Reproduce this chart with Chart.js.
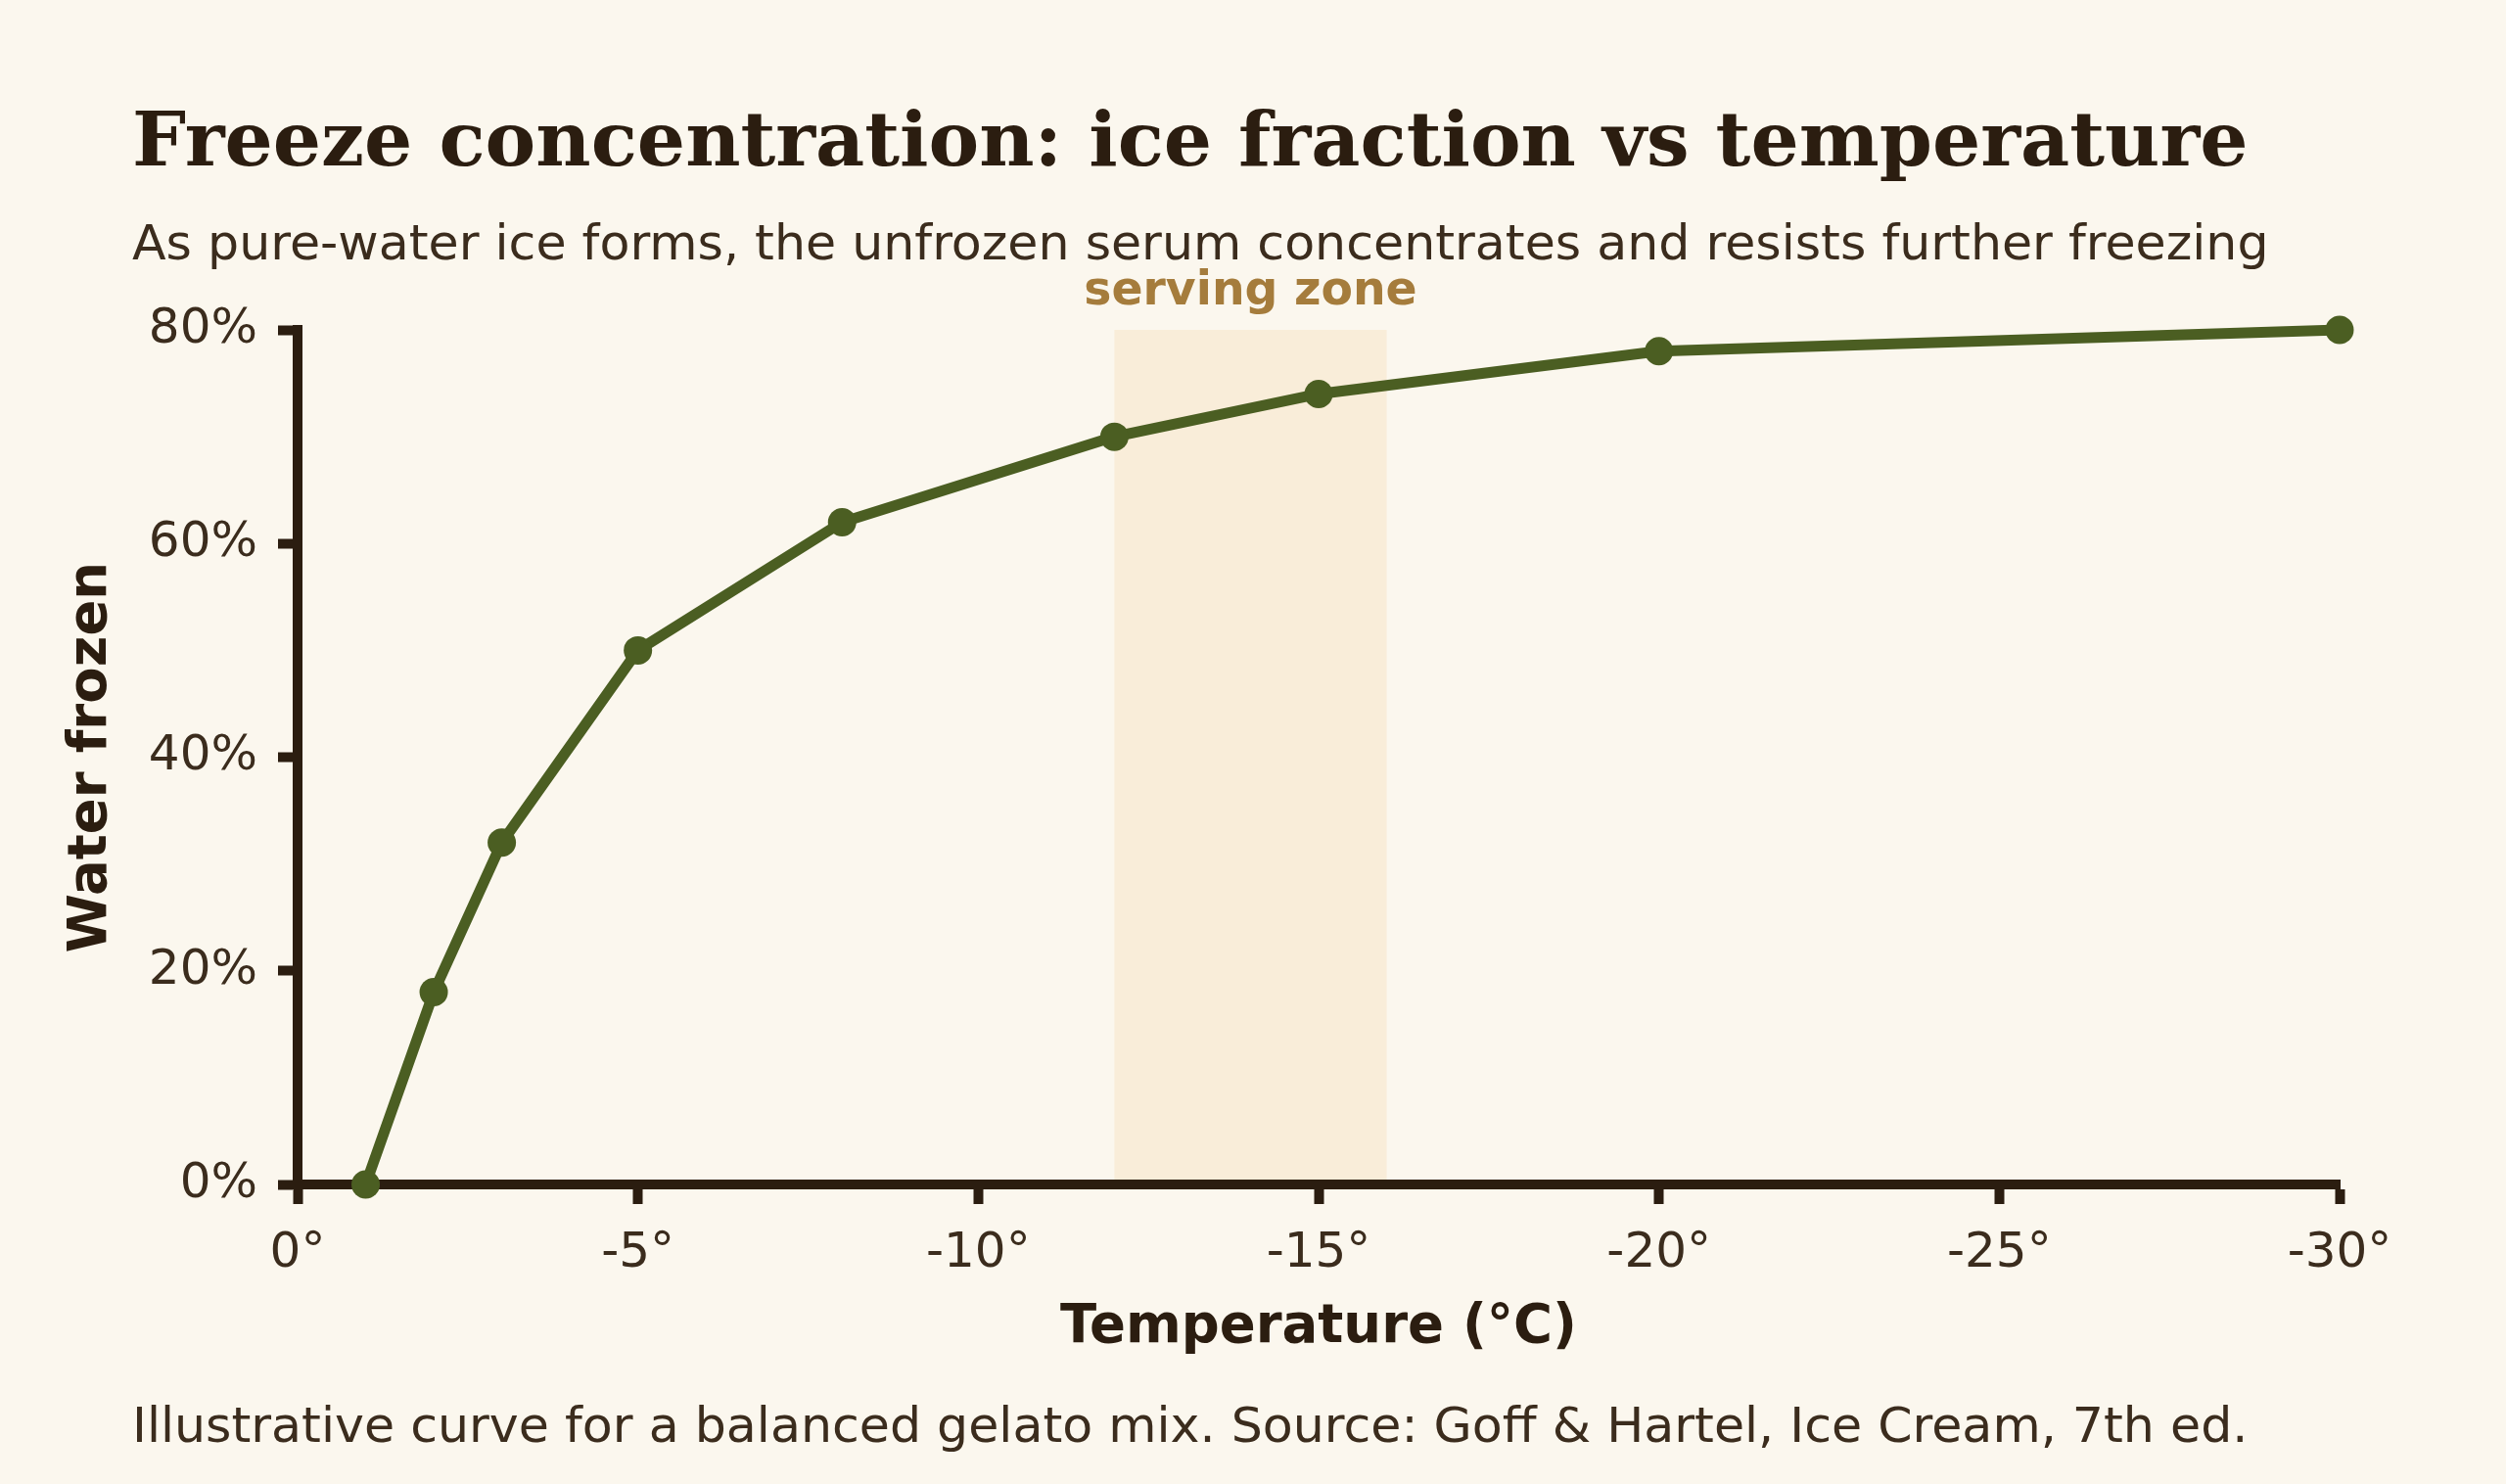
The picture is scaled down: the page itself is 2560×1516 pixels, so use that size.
<!DOCTYPE html>
<html><head><meta charset="utf-8">
<script src="https://cdn.jsdelivr.net/npm/chart.js@4.4.1/dist/chart.umd.min.js"></script>
<style>
html,body{margin:0;padding:0;background:#fbf7ee;}
#wrap{position:relative;width:2560px;height:1516px;overflow:hidden;background:#fbf7ee;}
#c{position:absolute;left:0;top:0;}
.t{position:absolute;left:135px;white-space:nowrap;line-height:1;}
#title{top:103px;font-weight:bold;font-size:77.5px;font-family:"DejaVu Serif";color:#2b1d10;}
#sub{top:223px;font-size:50.6px;font-family:"DejaVu Sans";color:#3b2c1d;}
#foot{top:1431px;font-size:50.6px;font-family:"DejaVu Sans";color:#3b2c1d;}
</style></head><body>
<div id="wrap">
<canvas id="c" width="2560" height="1516"></canvas>
<div class="t" id="title">Freeze concentration: ice fraction vs temperature</div>
<div class="t" id="sub">As pure-water ice forms, the unfrozen serum concentrates and resists further freezing</div>
<div class="t" id="foot">Illustrative curve for a balanced gelato mix. Source: Goff &amp; Hartel, Ice Cream, 7th ed.</div>
</div>
<script>
// ---- data ----
const temperatures = [-1, -2, -3, -5, -8, -12, -15, -20, -30];
const waterFrozen = [0, 18, 32, 50, 62, 70, 74, 78, 80];
const xTickValues = [0, -5, -10, -15, -20, -25, -30];
const yTickValues = [0, 20, 40, 60, 80];
const servingZone = [-12, -16];
const servingLabel = 'serving zone';

// ---- style ----
const INK = '#2b1d10';
const TICK_INK = '#3b2c1d';
const LINE = '#4b5e22';

Chart.defaults.font.family = '"DejaVu Sans"';

const zonePlugin = {
  id: 'zone',
  beforeDraw(chart) {
    const {ctx, scales: {x, y}} = chart;
    const x1 = x.getPixelForValue(servingZone[0]);
    const x2 = x.getPixelForValue(servingZone[1]);
    const y1 = y.getPixelForValue(80);
    const y2 = y.getPixelForValue(0);
    ctx.save();
    ctx.fillStyle = '#f9edd9';
    ctx.fillRect(Math.min(x1, x2), y1, Math.abs(x2 - x1), y2 - y1);
    ctx.fillStyle = '#a57c3c';
    ctx.font = 'bold 47.3px "DejaVu Sans"';
    ctx.textAlign = 'center';
    ctx.textBaseline = 'alphabetic';
    ctx.fillText(servingLabel, (x1 + x2) / 2, y1 - 26);
    ctx.restore();
  }
};

new Chart(document.getElementById('c'), {
  type: 'line',
  data: {
    datasets: [{
      data: temperatures.map((t, i) => ({x: t, y: waterFrozen[i]})),
      borderColor: LINE,
      backgroundColor: LINE,
      borderWidth: 11,
      pointRadius: 14.5,
      pointHoverRadius: 14.5,
      pointBackgroundColor: LINE,
      pointBorderWidth: 0,
      tension: 0,
      clip: false
    }]
  },
  options: {
    responsive: false,
    animation: false,
    devicePixelRatio: 1,
    events: [],
    layout: {padding: {left: 0, top: 337, right: 170, bottom: 100}},
    plugins: {legend: {display: false}, tooltip: {enabled: false}, title: {display: false}},
    scales: {
      x: {
        type: 'linear',
        min: -30, max: 0, reverse: true,
        afterBuildTicks(s) { s.ticks = xTickValues.map(v => ({value: v})); },
        afterFit(s) { s.height = 206; },
        ticks: {
          padding: 21,
          color: TICK_INK,
          font: {size: 50},
          callback: v => (v === 0 ? '0' : String(v)) + '°'
        },
        grid: {display: true, drawOnChartArea: false, drawTicks: true, tickLength: 20, tickWidth: 10, tickColor: INK},
        border: {display: true, color: INK, width: 10},
        title: {display: true, text: 'Temperature (°C)', color: INK, font: {size: 54.5, weight: 'bold'}, padding: {top: 0, bottom: 26}}
      },
      y: {
        min: 0, max: 80,
        afterBuildTicks(s) { s.ticks = yTickValues.map(v => ({value: v})); },
        afterFit(s) { s.width = 304; },
        ticks: {
          padding: 21,
          color: TICK_INK,
          font: {size: 50},
          callback: v => v + '%'
        },
        grid: {display: true, drawOnChartArea: false, drawTicks: true, tickLength: 20, tickWidth: 10, tickColor: INK},
        border: {display: true, color: INK, width: 10},
        title: {display: true, text: 'Water frozen', color: INK, font: {size: 54.5, weight: 'bold'}, padding: {top: 61, bottom: 0}}
      }
    }
  },
  plugins: [zonePlugin]
});
</script>
</body></html>
